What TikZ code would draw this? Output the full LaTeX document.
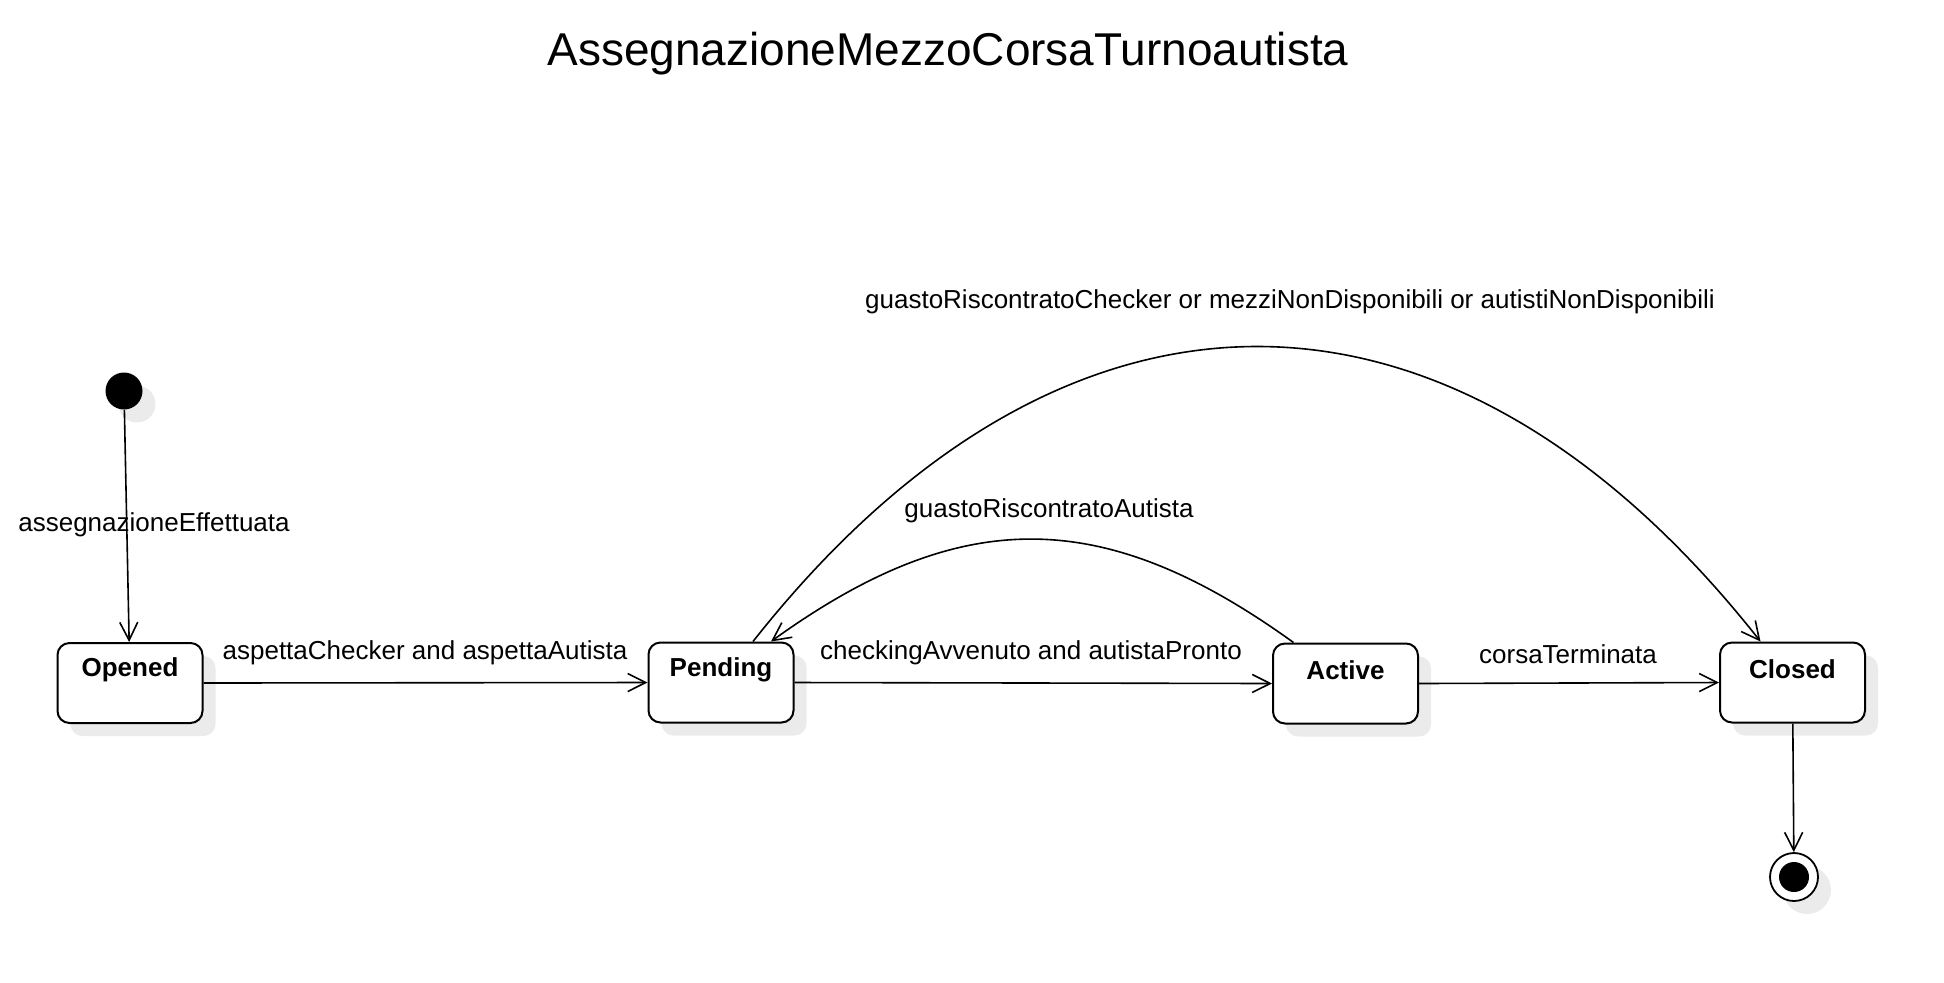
\documentclass[tikz,border=0pt]{standalone}
\usepackage{fontspec}
\setmainfont{Liberation Sans}
\usetikzlibrary{arrows.meta,shadows}
\begin{document}
\begin{tikzpicture}[x=0.5pt,y=-0.5pt,
  shad/.style={drop shadow={shadow xshift=6.5pt,shadow yshift=-6.5pt,fill=black!8,opacity=1}},
  statebox/.style={draw,line width=1pt,rounded corners=6pt,fill=white,shad,
    minimum width=72.5pt,minimum height=40pt,inner sep=0pt},
  lbl/.style={font=\fontsize{13}{16}\selectfont,inner sep=0pt},
  slbl/.style={font=\fontsize{13}{16}\selectfont\bfseries,inner sep=0pt,anchor=center,yshift=-14pt},
  trans/.style={line width=0.8pt,-{Straight Barb[length=9pt,width=9pt,line width=0.8pt]}}
]
\useasboundingbox (0,0) rectangle (1944,982);

\node[font=\fontsize{23}{28}\selectfont,inner sep=0pt] (title) at (948,54) {AssegnazioneMezzoCorsaTurnoautista};

\node[circle,fill=black,minimum size=18.5pt,inner sep=0pt,shad] (init) at (124,391) {};

\node[statebox,label={[slbl]north:Opened}] (opened) at (130,683) {};
\node[statebox,label={[slbl]north:Pending}] (pending) at (721,682.5) {};
\node[statebox,label={[slbl]north:Active}] (active) at (1345.5,683.5) {};
\node[statebox,label={[slbl]north:Closed}] (closed) at (1792.5,682.5) {};

\node[circle,draw,line width=0.9pt,fill=white,minimum size=24pt,inner sep=0pt,shad] (final) at (1794,877) {};
\fill (final.center) circle[radius=7.5pt];

\draw[trans] (init) -- (opened);
\draw[trans] (opened.east) -- (pending.west);
\draw[trans] (pending.east) -- (active.west);
\draw[trans] (active.east) -- (closed.west);
\draw[trans] (closed) -- (final);

\draw[trans] ([xshift=16pt]pending.north) .. controls +(310,-393) and +(-310,-393) .. ([xshift=-16pt]closed.north);
\draw[trans] ([xshift=-26pt]active.north) .. controls +(-190,-137) and +(190,-137) .. ([xshift=25pt]pending.north);

\node[lbl] (l1) at (154,525) {assegnazioneEffettuata};
\node[lbl] (l2) at (425,653) {aspettaChecker and aspettaAutista};
\node[lbl] (l3) at (1031,653) {checkingAvvenuto and autistaPronto};
\node[lbl] (l4) at (1568,654) {corsaTerminata};
\node[lbl] (l5) at (1049,511) {guastoRiscontratoAutista};
\node[lbl] (l6) at (1290,302) {guastoRiscontratoChecker or mezziNonDisponibili or autistiNonDisponibili};
\end{tikzpicture}
\end{document}
